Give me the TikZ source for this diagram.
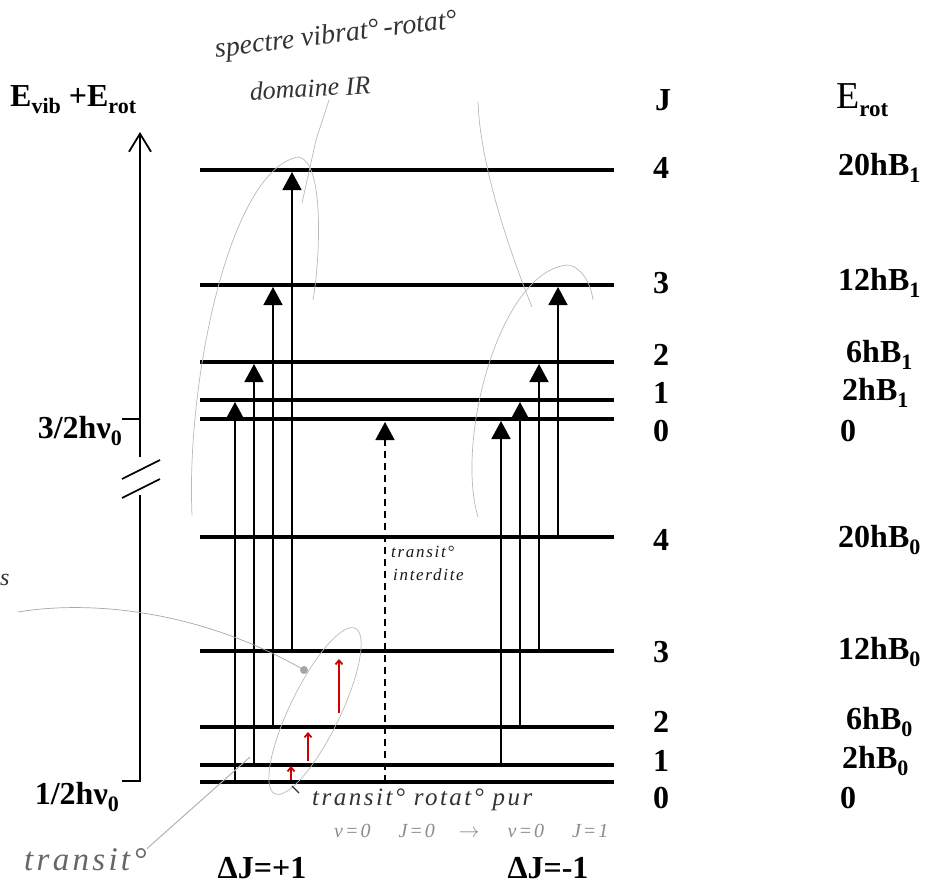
\documentclass[tikz,border=0pt]{standalone}
\usepackage{fontspec}
\setmainfont{Liberation Serif}
\newfontfamily\handfont[LetterSpace=10.0]{Liberation Serif}
\usetikzlibrary{arrows.meta,calc}
\newcommand{\sbx}[1]{\raisebox{-0.22em}{\fontsize{22}{22}\selectfont #1}}
\begin{document}
\begin{tikzpicture}[x=1pt,y=-1pt,
  lbl/.style={font=\bfseries\fontsize{32}{32}\selectfont, inner sep=0pt},
  level/.style={line width=3.6pt},
  trans/.style={line width=1.6pt, -{Triangle[width=19pt,length=18pt]}},
  forbid/.style={trans, dash pattern=on 7pt off 5pt},
  axis/.style={line width=1.8pt},
  hand/.style={font=\itshape, text=black!80, inner sep=0pt},
  pencil/.style={gray!55, line width=0.7pt},
  redarr/.style={red!80!black, line width=1.8pt, -{Straight Barb[length=4pt,width=7pt]}}]
\useasboundingbox (0,0) rectangle (926,888);

% level coordinates (left ends)
\foreach \n/\y in {U4/170,U3/285,U2/362,U1/400,U0/419,L4/537,L3/651,L2/727,L1/765,L0/782}{
  \coordinate (\n) at (200,\y);
  \coordinate (\n e) at (614,\y);
  \draw[level] (\n) -- (\n e);
}
% transition columns
\foreach \n/\x in {a/235,b/254,c/273,d/292,e/501,f/520,g/539,h/558,k/385}{
  \coordinate (\n) at (\x,0);
}
\draw[trans] (a |- L0) -- ($(a |- U1)+(0,2)$);
\draw[trans] (b |- L1) -- ($(b |- U2)+(0,2)$);
\draw[trans] (c |- L2) -- ($(c |- U3)+(0,2)$);
\draw[trans] (d |- L3) -- ($(d |- U4)+(0,2)$);
\draw[trans] (e |- L1) -- ($(e |- U0)+(0,2)$);
\draw[trans] (f |- L2) -- ($(f |- U1)+(0,2)$);
\draw[trans] (g |- L3) -- ($(g |- U2)+(0,2)$);
\draw[trans] (h |- L4) -- ($(h |- U3)+(0,2)$);
\draw[forbid] (k |- L0) -- ($(k |- U0)+(0,3)$);

% energy axis
\coordinate (axb) at (140,781);
\coordinate (axbrk1) at (140,495);
\coordinate (axbrk2) at (140,457);
\coordinate (axt) at (140,132);
\draw[axis] (122,781) -- (axb) -- (axbrk1);
\draw[axis, -{Straight Barb[length=18pt,width=22pt,line width=1.8pt]}] (axbrk2) -- (axt);
\draw[axis] (122,419) -- (140,419);
\draw[line width=1.6pt] (122,479) -- (160,460);
\draw[line width=1.6pt] (122,498) -- (160,479);

% axis labels
\node[lbl, anchor=west] (evib) at (10,100) {E\sbx{vib} +E\sbx{rot}};
\node[lbl, anchor=east] (hv32) at (122,431) {3/2hν\sbx{0}};
\node[lbl, anchor=east] (hv12) at (119,797) {1/2hν\sbx{0}};

% column headers
\node[lbl] (Jh) at (663,100) {J};
\node[inner sep=0pt, anchor=west] (Eh) at (836,100) {\fontsize{38}{38}\selectfont E\raisebox{-0.2em}{\bfseries\fontsize{23}{23}\selectfont rot}};

% J values and energies
\foreach \j/\y/\en/\dx in {4/168/20hB\sbx{1}/0,3/283/12hB\sbx{1}/0,2/355/6hB\sbx{1}/8,1/393/2hB\sbx{1}/4,0/431/0/2,
                           4/540/20hB\sbx{0}/0,3/652/12hB\sbx{0}/0,2/722/6hB\sbx{0}/8,1/761/2hB\sbx{0}/4,0/798/0/2}{
  \node[lbl] at (661,\y) {\j};
  \node[lbl, anchor=west] at (838+\dx,\y) {\en};
}

% Delta J labels
\node[lbl] (dp) at (262,868) {ΔJ=+1};
\node[lbl] (dm) at (548,868) {ΔJ=-1};

% handwritten annotations
\node[hand, font=\itshape\fontsize{28}{28}\selectfont, rotate=7] (spec) at (336,36) {spectre vibrat°\,-rotat°};
\node[hand, font=\itshape\fontsize{26}{26}\selectfont, rotate=3] (dom) at (310,88) {domaine IR};
\node[hand, font=\handfont\itshape\fontsize{17}{17}\selectfont, anchor=west, text=black!90] (ti1) at (391,552) {transit°};
\node[hand, font=\handfont\itshape\fontsize{17}{17}\selectfont, anchor=west, text=black!90] (ti2) at (393,575) {interdite};
\node[hand, font=\handfont\itshape\fontsize{25}{25}\selectfont, anchor=west] (trp) at (312,800) {transit° rotat° pur};
\node[hand, font=\handfont\itshape\fontsize{20}{20}\selectfont, anchor=west, text=black!45] (vj) at (334,831) {v=0\hspace{28pt}J=0\hspace{24pt}$\rightarrow$\hspace{28pt}v=0\hspace{28pt}J=1};
\node[hand, font=\handfont\itshape\fontsize{33}{33}\selectfont, anchor=west, text=black!60] (trb) at (24,860) {transit°};
\node[hand, font=\itshape\fontsize{24}{24}\selectfont, anchor=west] (sfrag) at (0,580) {s};

% pencil strokes
\draw[pencil] (192,515) .. controls (186,380) and (230,170) .. (298,157)
              .. controls (325,160) and (320,260) .. (313,300);
\draw[pencil] (478,517) .. controls (455,440) and (500,270) .. (568,265)
              .. controls (585,268) and (592,290) .. (593,300);
\draw[pencil] (329,100) -- (316,140) -- (302,203);
\draw[pencil] (478,102) .. controls (480,160) and (505,240) .. (532,307);
\draw[pencil, rotate around={64:(315,711)}] (315,711) ellipse [x radius=92, y radius=25];
\coordinate (blob) at (304,670);
\draw[pencil, gray!70] (18,612) .. controls (90,600) and (200,610) .. (blob);
\fill[gray!70] (blob) circle (4pt);
\draw[pencil, gray!60, line width=1pt] (trb.north east) -- (250,757);
\draw[black!80, line width=1.2pt] (292,786) -- (299,793);

% red arrows
\draw[redarr] (291,780) -- (291,766);
\draw[redarr] (308,761) -- (308,732);
\draw[redarr] (339,713) -- (339,659);
\end{tikzpicture}
\end{document}
